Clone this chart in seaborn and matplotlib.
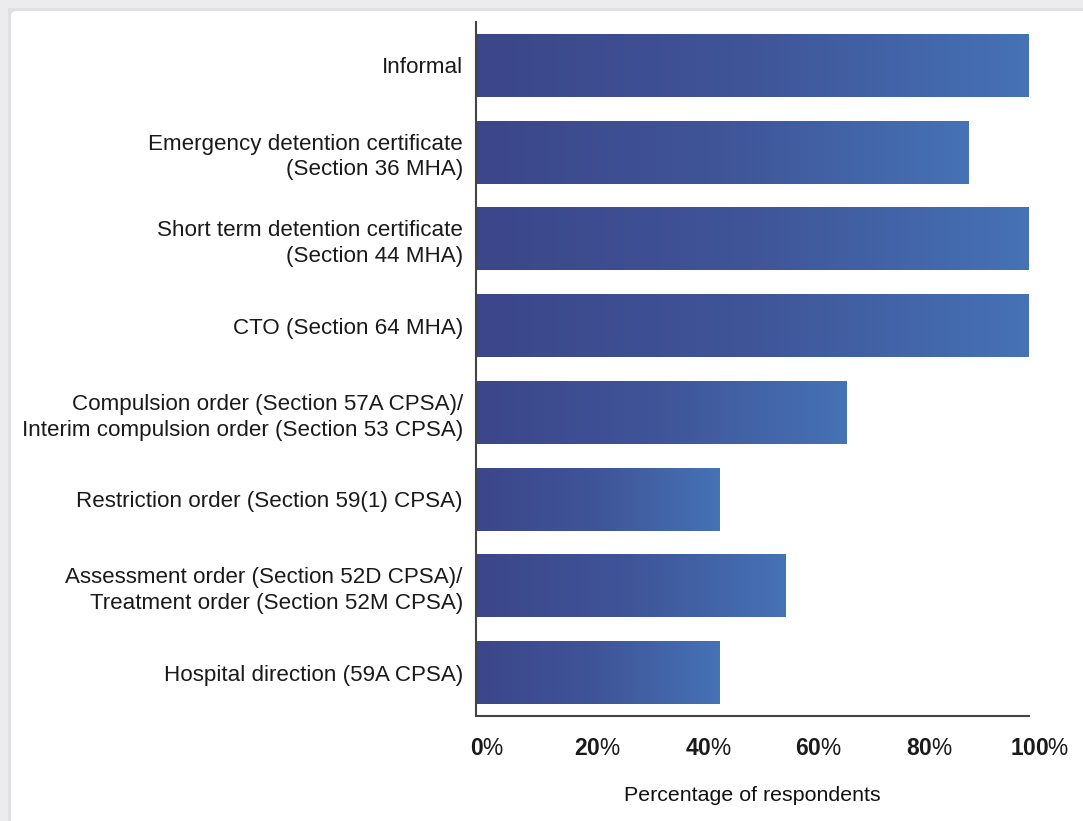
import numpy as np
import pandas as pd
import matplotlib
matplotlib.use("Agg")
import matplotlib.pyplot as plt
import matplotlib.transforms as mtransforms
import seaborn as sns
from matplotlib.colors import LinearSegmentedColormap
from matplotlib.patches import FancyBboxPatch, Rectangle

# Dane
kategorie = [
    "Informal",
    "Emergency detention certificate\n(Section 36 MHA)",
    "Short term detention certificate\n(Section 44 MHA)",
    "CTO (Section 64 MHA)",
    "Compulsion order (Section 57A CPSA)/\nInterim compulsion order (Section 53 CPSA)",
    "Restriction order (Section 59(1) CPSA)",
    "Assessment order (Section 52D CPSA)/\nTreatment order (Section 52M CPSA)",
    "Hospital direction (59A CPSA)",
]
wartosci = [100, 89, 100, 100, 67, 44, 56, 44]
ticki = [0, 20, 40, 60, 80, 100]

df = pd.DataFrame({"kategoria": kategorie, "procent": wartosci})

sns.set_style("white")
plt.rcParams["font.family"] = ["Liberation Sans", "DejaVu Sans"]
plt.rcParams["mathtext.fontset"] = "custom"
plt.rcParams["mathtext.rm"] = "Liberation Sans"
plt.rcParams["mathtext.bf"] = "Liberation Sans:bold"

W, H = 1083, 821
fig = plt.figure(figsize=(W / 100, H / 100), dpi=100, facecolor="#ecebed")

# Biale tlo z ramka (pod osiami)
fig.patches.append(Rectangle((8 / W, 0), 1, 1 - 8 / H, transform=fig.transFigure,
                             facecolor="#e0e0e2", edgecolor="none", zorder=-2))
fig.patches.append(FancyBboxPatch((11 / W, -0.1), 1.2, 1.1 - 11 / H,
                                  boxstyle="round,pad=0,rounding_size=0.006",
                                  transform=fig.transFigure,
                                  facecolor="white", edgecolor="none", zorder=-1))

ax = fig.add_axes([476 / W, 1 - 716 / H, (1029 - 476) / W, (716 - 22) / H])
ax.set_facecolor("none")

sns.barplot(data=df, x="procent", y="kategoria", orient="h", width=0.725,
            color="#3d4a8c", ax=ax)

# Gradient na slupkach
cmap = LinearSegmentedColormap.from_list("grad", ["#3c468a", "#3f5598", "#4672b6"])
grad = np.linspace(0, 1, 256).reshape(1, -1)
for p in ax.patches:
    x0, y0 = p.get_x(), p.get_y()
    w, h = p.get_width(), p.get_height()
    p.set_facecolor("none")
    p.set_edgecolor("none")
    im = ax.imshow(grad, extent=[x0, x0 + w, y0 + h, y0], cmap=cmap,
                   aspect="auto", zorder=2, interpolation="bicubic")
    im.set_clip_path(p)

ax.set_xlim(0, 100)
ax.set_ylim(len(kategorie) - 0.5, -0.5)

ax.set_xticks(ticki)
ax.set_xticklabels([r"$\mathbf{%d}$%%" % t for t in ticki], fontsize=16.4, color="#1a1a1a")
ax.tick_params(axis="x", direction="in", length=10, width=1.2, color="#666666",
               pad=15)
# etykiety procentow lekko przesuniete w prawo
przesun = mtransforms.ScaledTranslation(11 / 100, 0, fig.dpi_scale_trans)
for lab in ax.get_xticklabels():
    lab.set_transform(lab.get_transform() + przesun)

ax.tick_params(axis="y", length=0, pad=9.5, labelsize=16.1, labelcolor="#1a1a1a")
for lab in ax.get_yticklabels():
    lab.set_linespacing(1.3)

for s in ["top", "right"]:
    ax.spines[s].set_visible(False)
for s in ["left", "bottom"]:
    ax.spines[s].set_color("#444444")
    ax.spines[s].set_linewidth(1.5)

ax.set_ylabel("")
ax.set_xlabel("Percentage of respondents", fontsize=15.4, color="#111111", labelpad=19)

fig.savefig("out.png", dpi=100, facecolor=fig.get_facecolor())
